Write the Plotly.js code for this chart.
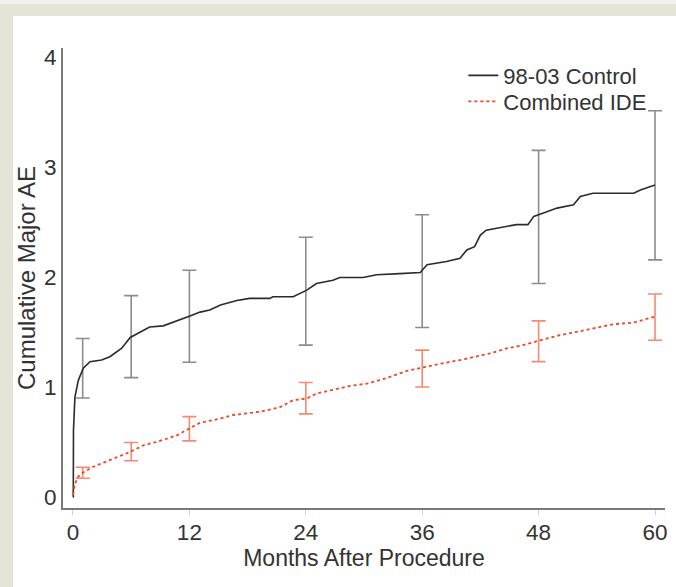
<!DOCTYPE html>
<html>
<head>
<meta charset="utf-8">
<script src="https://cdn.plot.ly/plotly-3.0.1.min.js"></script>
<style>
  html, body { margin: 0; padding: 0; width: 676px; height: 587px; overflow: hidden; background: #e5e5d7; }
  #topband { position: absolute; left: 0; top: 0; width: 676px; height: 4px; background: #f1f1ea; }
  #chart { position: absolute; left: 13px; top: 16px; width: 663px; height: 571px; }
</style>
</head>
<body>
<div id="topband"></div>
<div id="chart"></div>
<script>
// Control (98-03) cumulative curve: months, value
const ctrlMonths = [0, 0.03, 0.05, 0.2, 0.55, 1.06, 1.75, 2.95, 3.8, 5.0, 5.9, 6.9, 7.9, 9.3, 10.3, 12.06, 13.1, 14.1, 15.2, 16.9, 18.2, 20.3, 20.6, 22.7, 24.1, 25.1, 26.8, 27.5, 29.9, 31.3, 33.7, 35.8, 36.5, 38.5, 39.9, 40.6, 41.4, 42.0, 42.6, 44.7, 45.7, 46.9, 47.5, 48.5, 49.9, 51.6, 52.3, 53.6, 57.8, 58.5, 59.5, 60];
const ctrlValues = [0, 0.0, 0.61, 0.91, 1.06, 1.17, 1.23, 1.245, 1.275, 1.35, 1.45, 1.50, 1.545, 1.555, 1.59, 1.645, 1.68, 1.70, 1.745, 1.785, 1.805, 1.805, 1.82, 1.82, 1.88, 1.94, 1.97, 1.995, 1.995, 2.02, 2.03, 2.04, 2.11, 2.14, 2.17, 2.245, 2.275, 2.38, 2.425, 2.455, 2.475, 2.475, 2.55, 2.58, 2.625, 2.655, 2.73, 2.76, 2.76, 2.79, 2.82, 2.835];

// Combined IDE cumulative curve
const ideMonths = [0, 0.2, 0.55, 0.9, 2.1, 3.8, 5.5, 5.9, 7.25, 8.6, 10.7, 12.06, 13.1, 14.8, 16.5, 19.3, 21.3, 22.7, 24.1, 25.1, 27.5, 28.6, 30.3, 32.3, 34.4, 35.9, 37.8, 40.2, 43.0, 44.7, 46.4, 48.0, 49.9, 51.9, 54.0, 55.7, 57.8, 59.8, 60];
const ideValues = [0.02, 0.12, 0.185, 0.215, 0.275, 0.335, 0.395, 0.41, 0.47, 0.50, 0.56, 0.625, 0.675, 0.705, 0.745, 0.775, 0.815, 0.88, 0.895, 0.94, 0.99, 1.01, 1.03, 1.08, 1.145, 1.175, 1.21, 1.25, 1.305, 1.35, 1.38, 1.42, 1.465, 1.50, 1.535, 1.57, 1.585, 1.635, 1.64];

// Error bars at selected months
const barMonths = [1, 6, 12, 24, 36, 48, 60];
const ctrlBarMid = [1.17, 1.45, 1.645, 1.875, 2.05, 2.55, 2.835];
const ctrlBarHigh = [1.44, 1.83, 2.06, 2.36, 2.565, 3.15, 3.51];
const ctrlBarLow = [0.90, 1.085, 1.225, 1.38, 1.54, 1.94, 2.155];
const ideBarMid = [0.22, 0.41, 0.62, 0.895, 1.17, 1.42, 1.635];
const ideBarHigh = [0.27, 0.495, 0.73, 1.04, 1.335, 1.6, 1.845];
const ideBarLow = [0.17, 0.33, 0.51, 0.755, 1.0, 1.23, 1.425];

const xTicks = [0, 12, 24, 36, 48, 60];
const yTicks = [0, 1, 2, 3, 4];

const ctrlColor = '#2b2b2b';
const ideColor = '#f0451f';
const ctrlBarColor = '#8c8c8c';
const ideBarColor = '#f48a72';

const up = (hi, mid) => hi.map((h, i) => h - mid[i]);
const dn = (lo, mid) => lo.map((l, i) => mid[i] - l);

const traces = [
  {
    x: barMonths, y: ctrlBarMid, type: 'scatter', mode: 'markers',
    marker: { size: 1, color: 'rgba(0,0,0,0)' }, showlegend: false, hoverinfo: 'skip',
    error_y: { type: 'data', symmetric: false, array: up(ctrlBarHigh, ctrlBarMid), arrayminus: dn(ctrlBarLow, ctrlBarMid), color: ctrlBarColor, thickness: 1.6, width: 7 }
  },
  {
    x: barMonths, y: ideBarMid, type: 'scatter', mode: 'markers',
    marker: { size: 1, color: 'rgba(0,0,0,0)' }, showlegend: false, hoverinfo: 'skip',
    error_y: { type: 'data', symmetric: false, array: up(ideBarHigh, ideBarMid), arrayminus: dn(ideBarLow, ideBarMid), color: ideBarColor, thickness: 1.6, width: 7 }
  },
  {
    x: ctrlMonths, y: ctrlValues, type: 'scatter', mode: 'lines', name: '98-03 Control',
    line: { color: ctrlColor, width: 1.6 }, legend: 'legend'
  },
  {
    x: ideMonths, y: ideValues, type: 'scatter', mode: 'lines', name: 'Combined IDE',
    line: { color: ideColor, width: 1.8, dash: 'dot' }, legend: 'legend2'
  }
];

const legendCommon = {
  xanchor: 'left', yanchor: 'top',
  bgcolor: 'rgba(0,0,0,0)', borderwidth: 0,
  font: { size: 22, color: '#333333' },
  itemwidth: 30
};

const layout = {
  width: 663, height: 571,
  paper_bgcolor: '#ffffff', plot_bgcolor: '#ffffff',
  margin: { l: 50, r: 11, t: 32, b: 79 },
  font: { family: '"Liberation Sans", Arial, sans-serif', color: '#333333', size: 22 },
  showlegend: true,
  legend: Object.assign({ x: 0.665, y: 0.9857 }, legendCommon),
  legend2: Object.assign({ x: 0.665, y: 0.929 }, legendCommon),
  xaxis: {
    range: [-1.03, 61.03], tickvals: xTicks, ticktext: xTicks.map(String),
    showgrid: false, zeroline: false, showline: true, linecolor: '#7a7a7a', linewidth: 2,
    ticks: 'outside', ticklen: 5, tickcolor: '#cfcfcf', tickwidth: 1,
    tickfont: { size: 22.5, color: '#333333' }, ticklabelstandoff: -2,
    title: { text: 'Months After Procedure', font: { size: 23, color: '#333333' }, standoff: 2 }
  },
  yaxis: {
    range: [-0.1, 4.08], tickvals: yTicks, ticktext: yTicks.map(String),
    showgrid: false, zeroline: false, showline: true, linecolor: '#7a7a7a', linewidth: 2,
    ticks: '', tickfont: { size: 22.5, color: '#333333' }, ticklabelstandoff: 0,
    title: { text: 'Cumulative Major AE', font: { size: 24, color: '#333333' }, standoff: 6 }
  }
};

Plotly.newPlot('chart', traces, layout, { displayModeBar: false, staticPlot: true });
</script>
</body>
</html>
